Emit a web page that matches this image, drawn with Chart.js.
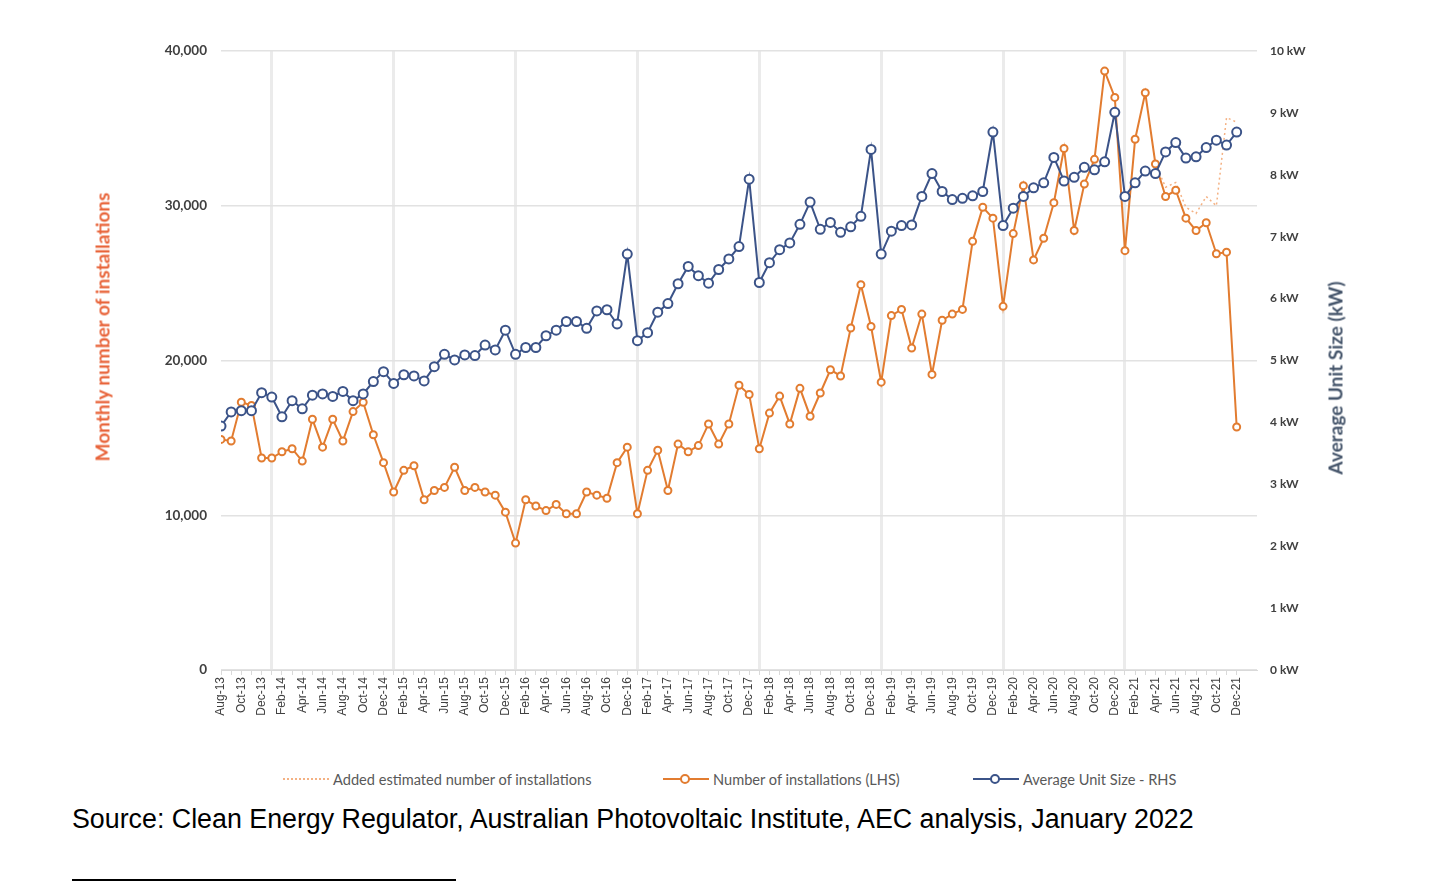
<!DOCTYPE html>
<html>
<head>
<meta charset="utf-8">
<title>Rooftop solar installations</title>
<script src="https://cdn.jsdelivr.net/npm/chart.js@4.4.1/dist/chart.umd.min.js"></script>
<style>
    html, body { margin: 0; padding: 0; background: #fff; }
    body { width: 1448px; height: 884px; position: relative; overflow: hidden; font-family: 'Liberation Sans', Arial, sans-serif; }
    #chartBox { position: absolute; left: 0; top: 0; width: 1448px; height: 740px; }
    .axis-title { position: absolute; transform: translate(-50%, -50%) rotate(-90deg); white-space: nowrap; font-family: Lato, sans-serif; font-weight: bold; font-size: 19px; }
    .legend-item { position: absolute; top: 769px; height: 20px; display: flex; align-items: center; font-family: Lato, sans-serif; font-size: 14.6px; color: #595959; white-space: nowrap; }
    .swatch { position: relative; width: 46px; height: 20px; margin-right: 4px; }
    .swatch .line { position: absolute; left: 0; right: 0; top: 9px; border-top: 2px solid; }
    .swatch .dot { position: absolute; left: 17px; top: 5px; width: 6px; height: 6px; border: 2px solid; border-radius: 50%; background: #fff; }
    .source { position: absolute; left: 72px; top: 804px; font-size: 26.8px; color: #000; white-space: nowrap; }
    .rule { position: absolute; left: 72px; top: 879px; width: 384px; height: 2px; background: #000; }
</style>
</head>
<body>
<div id="chartBox"><canvas id="chart"></canvas></div>

<div class="axis-title" style="left:102px; top:327px; color:#E8643A;">Monthly number of installations</div>
<div class="axis-title" style="left:1335px; top:378px; color:#44546A;">Average Unit Size (kW)</div>

<div class="legend-item" style="left:283px;">
    <span class="swatch"><span class="line" style="border-top:2px dotted #F4B183;"></span></span>Added estimated number of installations
</div>
<div class="legend-item" style="left:663px;">
    <span class="swatch"><span class="line" style="border-color:#E27C30;"></span><span class="dot" style="border-color:#E27C30;"></span></span>Number of installations (LHS)
</div>
<div class="legend-item" style="left:973px;">
    <span class="swatch"><span class="line" style="border-color:#3B5388;"></span><span class="dot" style="border-color:#3B5388;"></span></span>Average Unit Size - RHS
</div>

<div class="source">Source: Clean Energy Regulator, Australian Photovoltaic Institute, AEC analysis, January 2022</div>
<div class="rule"></div>

<script>
// Months on the category axis (Aug-13 .. Dec-21)
const MONTHS = [
    'Aug-13', 'Sep-13', 'Oct-13', 'Nov-13', 'Dec-13',
    'Jan-14', 'Feb-14', 'Mar-14', 'Apr-14', 'May-14', 'Jun-14', 'Jul-14', 'Aug-14', 'Sep-14', 'Oct-14', 'Nov-14', 'Dec-14',
    'Jan-15', 'Feb-15', 'Mar-15', 'Apr-15', 'May-15', 'Jun-15', 'Jul-15', 'Aug-15', 'Sep-15', 'Oct-15', 'Nov-15', 'Dec-15',
    'Jan-16', 'Feb-16', 'Mar-16', 'Apr-16', 'May-16', 'Jun-16', 'Jul-16', 'Aug-16', 'Sep-16', 'Oct-16', 'Nov-16', 'Dec-16',
    'Jan-17', 'Feb-17', 'Mar-17', 'Apr-17', 'May-17', 'Jun-17', 'Jul-17', 'Aug-17', 'Sep-17', 'Oct-17', 'Nov-17', 'Dec-17',
    'Jan-18', 'Feb-18', 'Mar-18', 'Apr-18', 'May-18', 'Jun-18', 'Jul-18', 'Aug-18', 'Sep-18', 'Oct-18', 'Nov-18', 'Dec-18',
    'Jan-19', 'Feb-19', 'Mar-19', 'Apr-19', 'May-19', 'Jun-19', 'Jul-19', 'Aug-19', 'Sep-19', 'Oct-19', 'Nov-19', 'Dec-19',
    'Jan-20', 'Feb-20', 'Mar-20', 'Apr-20', 'May-20', 'Jun-20', 'Jul-20', 'Aug-20', 'Sep-20', 'Oct-20', 'Nov-20', 'Dec-20',
    'Jan-21', 'Feb-21', 'Mar-21', 'Apr-21', 'May-21', 'Jun-21', 'Jul-21', 'Aug-21', 'Sep-21', 'Oct-21', 'Nov-21', 'Dec-21'
];

// Number of installations per month (LHS)
const INSTALLATIONS = [
    14900, 14800, 17300, 17100, 13700,
    13700, 14100, 14300, 13500, 16200, 14400, 16200, 14800, 16700, 17300, 15200, 13400,
    11500, 12900, 13200, 11000, 11600, 11800, 13100, 11600, 11800, 11500, 11300, 10200,
    8200, 11000, 10600, 10300, 10700, 10100, 10100, 11500, 11300, 11100, 13400, 14400,
    10100, 12900, 14200, 11600, 14600, 14100, 14500, 15900, 14600, 15900, 18400, 17800,
    14300, 16600, 17700, 15900, 18200, 16400, 17900, 19400, 19000, 22100, 24900, 22200,
    18600, 22900, 23300, 20800, 23000, 19100, 22600, 23000, 23300, 27700, 29900, 29200,
    23500, 28200, 31300, 26500, 27900, 30200, 33700, 28400, 31400, 33000, 38700, 37000,
    27100, 34300, 37300, 32700, 30600, 31000, 29200, 28400, 28900, 26900, 27000, 15700
];

// Added estimate for the most recent months (starts at Apr-21)
const ESTIMATE_START = 92;
const ESTIMATED = [32700, 31200, 31500, 29900, 29500, 30600, 30000, 35700, 35400];

// Average unit size in kW (RHS)
const UNIT_SIZE = [
    3.94, 4.17, 4.19, 4.19, 4.48,
    4.41, 4.09, 4.35, 4.22, 4.44, 4.46, 4.42, 4.50, 4.35, 4.46, 4.66, 4.82,
    4.63, 4.77, 4.75, 4.67, 4.90, 5.10, 5.01, 5.09, 5.08, 5.25, 5.17, 5.49,
    5.10, 5.21, 5.21, 5.40, 5.49, 5.63, 5.63, 5.52, 5.80, 5.82, 5.59, 6.72,
    5.32, 5.45, 5.78, 5.92, 6.24, 6.52, 6.37, 6.25, 6.47, 6.64, 6.84, 7.93,
    6.26, 6.58, 6.79, 6.90, 7.20, 7.56, 7.12, 7.23, 7.07, 7.16, 7.33, 8.41,
    6.72, 7.09, 7.18, 7.19, 7.65, 8.02, 7.73, 7.60, 7.62, 7.66, 7.73, 8.69,
    7.18, 7.46, 7.65, 7.79, 7.87, 8.28, 7.90, 7.96, 8.12, 8.08, 8.21, 9.01,
    7.65, 7.87, 8.06, 8.02, 8.37, 8.52, 8.27, 8.29, 8.44, 8.56, 8.48, 8.69
];

const ORANGE = '#E27C30';
const NAVY = '#3B5388';
const PEACH = '#F4B183';

function toPoints(values, start = 0) {
    return values.map((v, i) => ({ x: start + i, y: v }));
}

function isJanuary(value) {
    const label = MONTHS[value];
    return !!label && label.startsWith('Jan');
}

const ctx = document.getElementById('chart').getContext('2d');

new Chart(ctx, {
    type: 'line',
    data: {
        datasets: [
            {
                label: 'Added estimated number of installations',
                data: toPoints(ESTIMATED, ESTIMATE_START),
                yAxisID: 'y',
                borderColor: PEACH,
                borderWidth: 1.5,
                borderDash: [2, 3],
                pointRadius: 0,
                order: 3
            },
            {
                label: 'Number of installations (LHS)',
                data: toPoints(INSTALLATIONS),
                yAxisID: 'y',
                borderColor: ORANGE,
                borderWidth: 2,
                pointRadius: 3.5,
                pointBorderWidth: 2,
                pointBorderColor: ORANGE,
                pointBackgroundColor: '#fff',
                order: 2
            },
            {
                label: 'Average Unit Size - RHS',
                data: toPoints(UNIT_SIZE),
                yAxisID: 'y1',
                borderColor: NAVY,
                borderWidth: 2,
                pointRadius: 4.5,
                pointBorderWidth: 2,
                pointBorderColor: NAVY,
                pointBackgroundColor: '#fff',
                order: 1
            }
        ]
    },
    options: {
        responsive: true,
        maintainAspectRatio: false,
        animation: false,
        layout: { padding: { left: 88, right: 99, top: 51, bottom: 0 } },
        plugins: {
            legend: { display: false },
            tooltip: { enabled: false }
        },
        scales: {
            x: {
                type: 'linear',
                min: 0,
                max: 102,
                afterFit: (scale) => { scale.height = 70; },
                ticks: {
                    stepSize: 1,
                    autoSkip: false,
                    minRotation: 90,
                    maxRotation: 90,
                    padding: 2,
                    color: '#404040',
                    font: { family: 'Liberation Sans', size: 12 },
                    callback: (value) => (value % 2 === 0 && MONTHS[value]) ? MONTHS[value] : ''
                },
                grid: {
                    color: (c) => (c.tick && isJanuary(c.tick.value)) ? '#ebebeb' : 'rgba(0,0,0,0)',
                    lineWidth: (c) => (c.tick && isJanuary(c.tick.value)) ? 3 : 1,
                    tickColor: (c) => (c.tick && c.tick.value <= 100) ? '#d9d9d9' : 'rgba(0,0,0,0)',
                    tickWidth: 1,
                    tickLength: 5
                },
                border: { display: true, color: '#d9d9d9', width: 1 }
            },
            y: {
                position: 'left',
                min: 0,
                max: 40000,
                afterFit: (scale) => { scale.width = 133; },
                ticks: {
                    stepSize: 10000,
                    padding: 14,
                    color: '#404040',
                    font: { family: 'Lato', size: 13.5, weight: 'bold' },
                    callback: (value) => value.toLocaleString('en-US')
                },
                grid: { color: '#e2e2e2', lineWidth: 1.5, drawTicks: false },
                border: { display: false }
            },
            y1: {
                position: 'right',
                min: 0,
                max: 10,
                afterFit: (scale) => { scale.width = 92; },
                ticks: {
                    stepSize: 1,
                    padding: 13,
                    color: '#404040',
                    font: { family: 'Lato', size: 12, weight: 'bold' },
                    callback: (value) => value + ' kW'
                },
                grid: { display: false, drawTicks: false },
                border: { display: false }
            }
        }
    }
});
</script>
</body>
</html>
